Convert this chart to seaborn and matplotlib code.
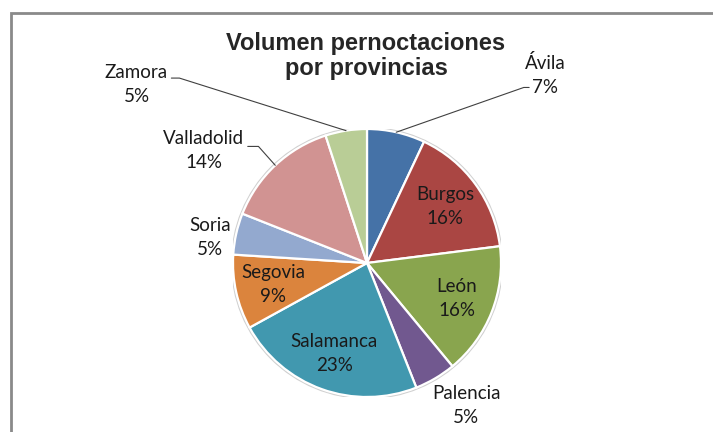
import numpy as np
import seaborn as sns
import matplotlib
matplotlib.use('Agg')
import matplotlib.pyplot as plt
from matplotlib.patches import Rectangle

# data
provincias = ['Ávila', 'Burgos', 'León', 'Palencia', 'Salamanca',
              'Segovia', 'Soria', 'Valladolid', 'Zamora']
porcentajes = [7, 16, 16, 5, 23, 9, 5, 14, 5]
colores = ['#4572A7', '#AA4643', '#89A54E', '#71588F', '#4198AF',
           '#DB843D', '#93A9CF', '#D19392', '#B9CD96']
titulo = 'Volumen pernoctaciones\npor provincias'

sns.set_theme(style='white')
plt.rcParams['font.family'] = ['Lato', 'DejaVu Sans']

fig = plt.figure(figsize=(7.13, 4.32), dpi=100)

# grey frame of the chart area (cut off at right/bottom like the screenshot)
fig.patches.append(Rectangle((10.5 / 713, -0.1), 1.2, 1 - 12.5 / 432 + 0.1,
                             transform=fig.transFigure, fill=False,
                             edgecolor='#8a8a8a', linewidth=2.0))

# pie axes: centre ~ (367, 263) px, radius ~ 134 px
cx, cy, r = 367, 432 - 263, 134
ax = fig.add_axes([(cx - r) / 713, (cy - r) / 432, 2 * r / 713, 2 * r / 432])

palette = sns.color_palette(colores)
wedges, _ = ax.pie(porcentajes, colors=palette, startangle=90, counterclock=False,
                   radius=1, wedgeprops=dict(edgecolor='white', linewidth=1.6))
ax.set_xlim(-1, 1)
ax.set_ylim(-1, 1)
ax.set_aspect('auto')
ax.axis('off')

# faint outer shadow ring
ax.add_patch(plt.Circle((0, 0), 1.01, fill=False, edgecolor='#d0d0d0', linewidth=1.2, zorder=0))

fs = 13.5
ls = 1.5
inside = {'Burgos', 'León', 'Salamanca', 'Segovia'}
# label positions for outside labels (pie radius units), leader line points
outside_pos = {
    'Ávila': (1.33, 1.40),
    'Palencia': (0.74, -1.06),
    'Soria': (-1.17, 0.19),
    'Valladolid': (-1.22, 0.84),
    'Zamora': (-1.72, 1.33),
}
leaders = {
    'Ávila': [(1.21, 1.31), (1.17, 1.31)],
    'Valladolid': [(-0.89, 0.87), (-0.81, 0.87)],
    'Zamora': [(-1.46, 1.38), (-1.40, 1.38)],
}

for w, name, pct in zip(wedges, provincias, porcentajes):
    ang = np.deg2rad((w.theta1 + w.theta2) / 2)
    txt = f'{name}\n{pct}%'
    if name in inside:
        ax.text(0.72 * np.cos(ang), 0.72 * np.sin(ang), txt, ha='center', va='center',
                fontsize=fs, color='#1a1a1a', linespacing=ls)
    else:
        x, y = outside_pos[name]
        ax.text(x, y, txt, ha='center', va='center', fontsize=fs,
                color='#1a1a1a', linespacing=ls, clip_on=False)
        if name in leaders:
            pts = leaders[name] + [(np.cos(ang), np.sin(ang))]
            xs, ys = zip(*pts)
            ax.plot(xs, ys, color='#404040', linewidth=0.8, clip_on=False)

fig.text(366 / 713, 1 - 56 / 432, titulo, ha='center', va='center',
         fontsize=17, fontweight='bold', linespacing=1.15,
         family=['Liberation Sans Narrow', 'Liberation Sans', 'DejaVu Sans'])

plt.savefig('out.png', dpi=100)
plt.close()
